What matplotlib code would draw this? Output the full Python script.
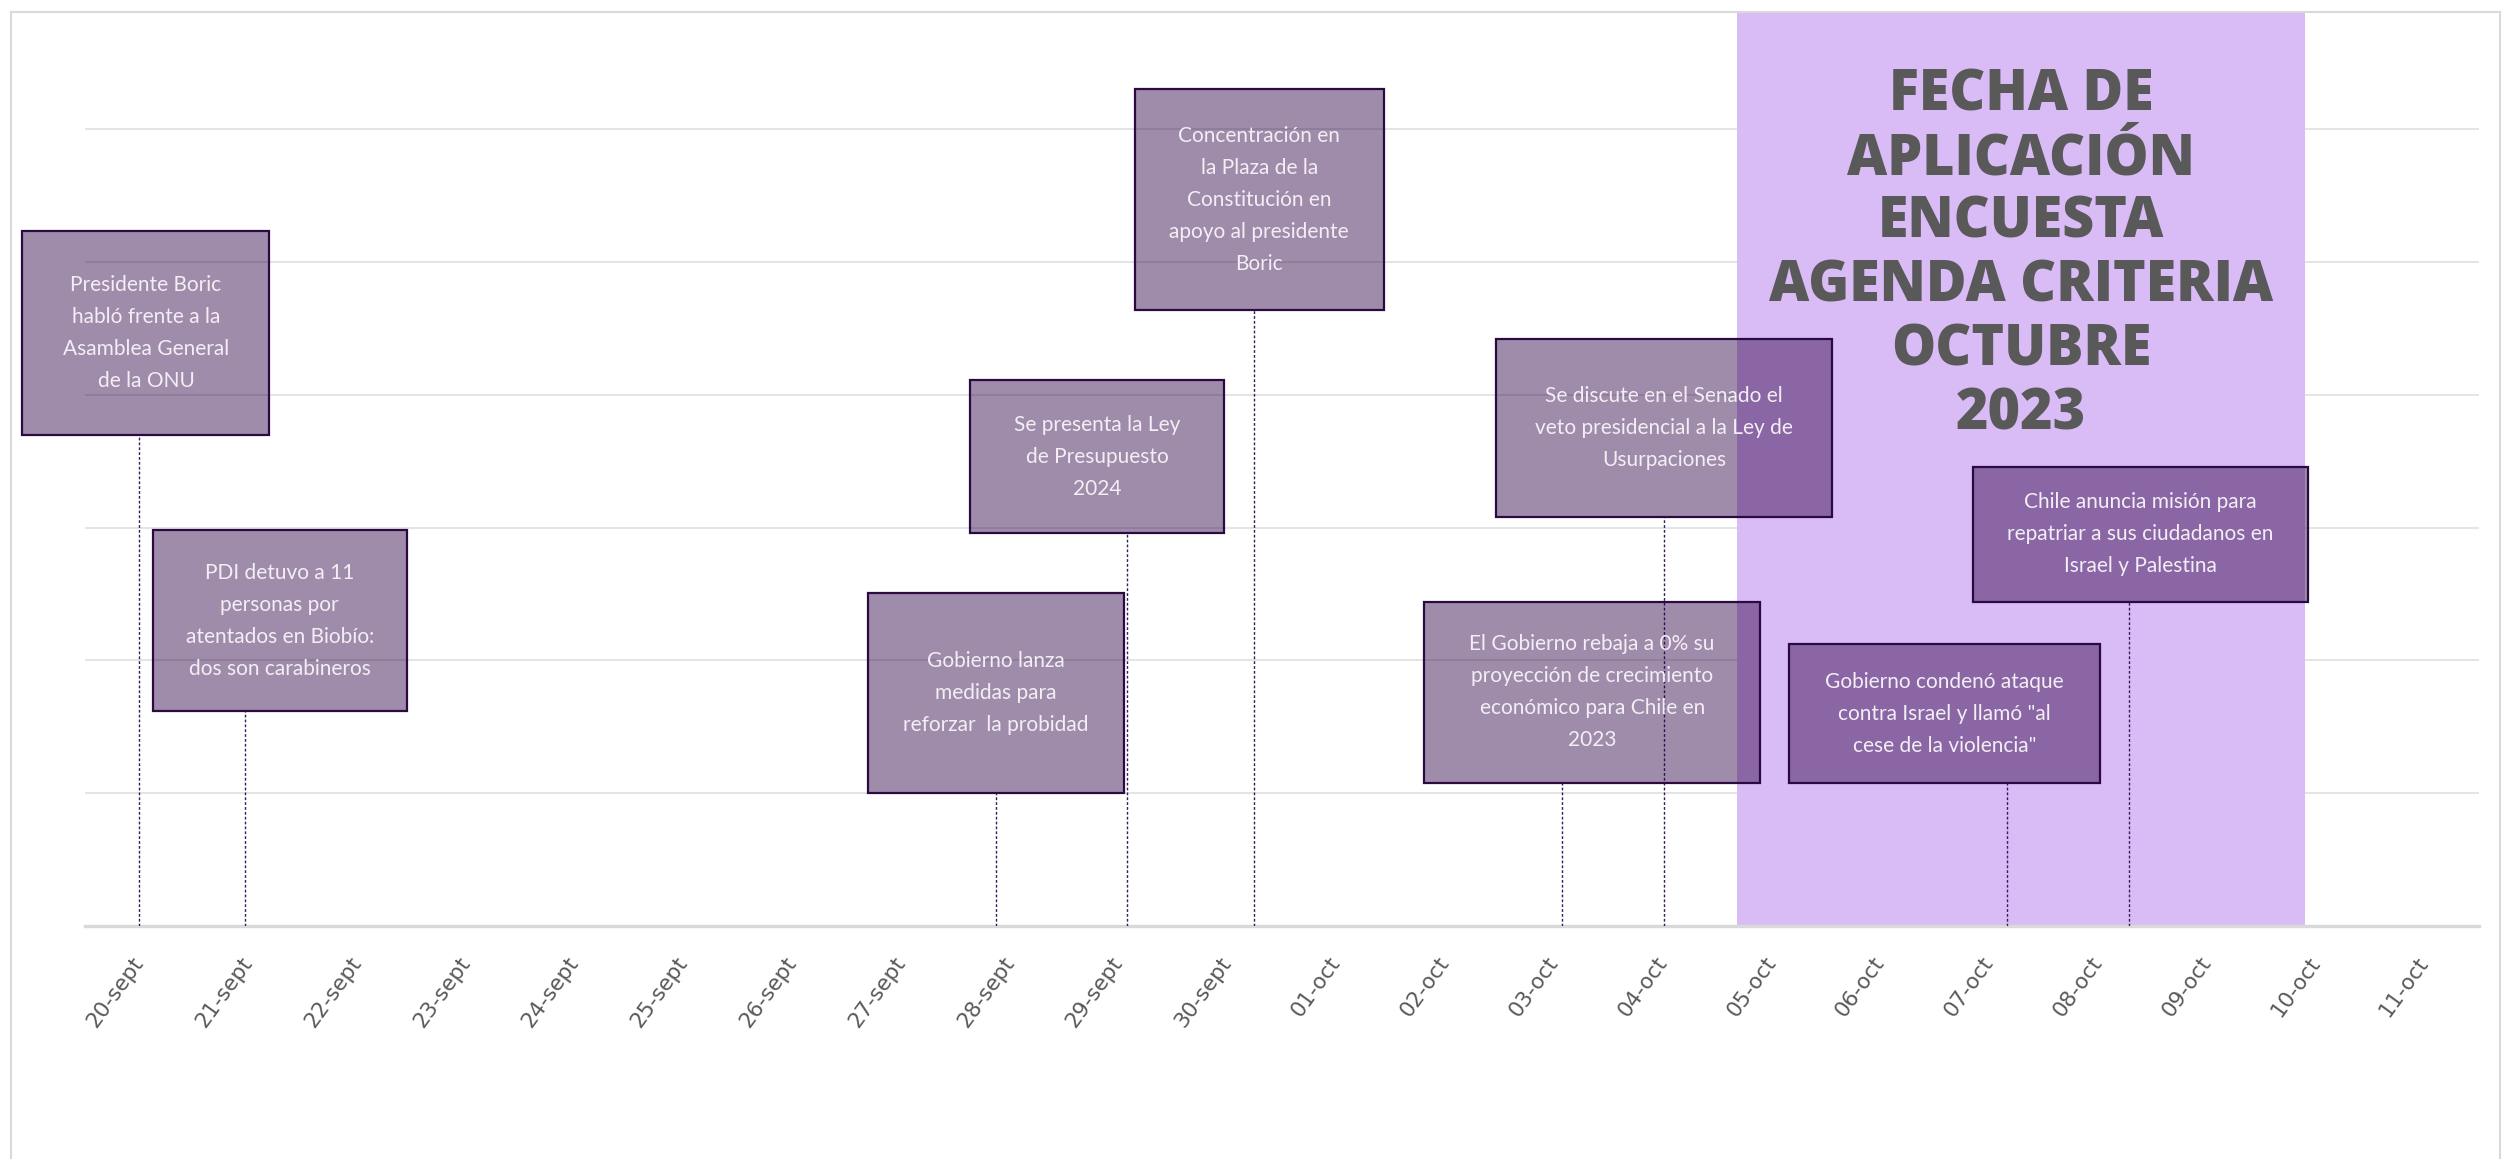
import matplotlib
matplotlib.use("Agg")
import matplotlib.pyplot as plt
from matplotlib.patches import Rectangle
from matplotlib.lines import Line2D

# categorías del eje x
dias = ['20-sept', '21-sept', '22-sept', '23-sept', '24-sept', '25-sept', '26-sept',
        '27-sept', '28-sept', '29-sept', '30-sept', '01-oct', '02-oct', '03-oct',
        '04-oct', '05-oct', '06-oct', '07-oct', '08-oct', '09-oct', '10-oct', '11-oct']

# hitos: posicion en el eje (indice de dia) y altura del hito
eventos = [
    "Presidente Boric\nhabló frente a la\nAsamblea General\nde la ONU",
    "PDI detuvo a 11\npersonas por\natentados en Biobío:\ndos son carabineros",
    "Gobierno lanza\nmedidas para\nreforzar  la probidad",
    "Se presenta la Ley\nde Presupuesto\n2024",
    "Concentración en\nla Plaza de la\nConstitución en\napoyo al presidente\nBoric",
    "Se discute en el Senado el\nveto presidencial a la Ley de\nUsurpaciones",
    "El Gobierno rebaja a 0% su\nproyección de crecimiento\neconómico para Chile en\n2023",
    "Gobierno condenó ataque\ncontra Israel y llamó \"al\ncese de la violencia\"",
    "Chile anuncia misión para\nrepatriar a sus ciudadanos en\nIsrael y Palestina",
]
fecha_evento = [0.0, 0.97, 7.87, 9.08, 10.24, 14.01, 13.07, 17.16, 18.28]
altura_evento = [3.70, 1.62, 1.00, 2.96, 4.64, 3.08, 1.08, 1.08, 2.44]

# periodo de aplicacion de la encuesta
periodo = [14.68, 19.90]
titulo_periodo = "FECHA DE\nAPLICACIÓN\nENCUESTA\nAGENDA CRITERIA\nOCTUBRE\n2023"

# layout de las cajas (centro x, ancho, alto) en unidades del eje
caja_cx = [0.06, 1.29, 7.87, 8.80, 10.29, 14.01, 13.35, 16.59, 18.39]
caja_w = [2.27, 2.33, 2.35, 2.33, 2.29, 3.09, 3.09, 2.86, 3.08]
caja_h = [1.53, 1.36, 1.51, 1.15, 1.66, 1.34, 1.36, 1.04, 1.02]

W, H = 2503, 1159
fig = plt.figure(figsize=(W / 100, H / 100), dpi=100)
ax = fig.add_axes([85 / W, 1 - 926 / H, (2479 - 85) / W, (926 - 13) / H])

ymax = (926 - 13) / 132.8
ax.set_xlim(-0.5, len(dias) - 0.5)
ax.set_ylim(0, ymax)

# franja morada
ax.axvspan(periodo[0], periodo[1], ymin=0, ymax=1, color='#d9bbf5', zorder=1, lw=0)
ax.text(sum(periodo) / 2, 5.05, titulo_periodo, ha='center', va='center',
        fontsize=40, fontweight='heavy', family='Open Sans', color='#595959',
        linespacing=1.16, zorder=2)

# grilla
for g in range(1, 7):
    ax.axhline(g, color='#e4e4e4', lw=1.4, zorder=0.5)

for s in ['top', 'right', 'left']:
    ax.spines[s].set_visible(False)
ax.spines['bottom'].set_color('#d9d9d9')
ax.spines['bottom'].set_linewidth(2.4)
ax.spines['bottom'].set_zorder(3)

ax.set_yticks([])
ax.set_xticks(range(len(dias)))
ax.set_xticklabels(dias, rotation=54, ha='right', va='center',
                   rotation_mode='anchor', fontsize=15.5, color='#595959')
ax.tick_params(axis='x', length=0, pad=24)

# lineas guia y cajas
for i, txt in enumerate(eventos):
    ax.vlines(fecha_evento[i], 0, altura_evento[i], color='#3a1a5c', lw=1.0,
              linestyles=(0, (2, 1.5)), zorder=4)
    x0 = caja_cx[i] - caja_w[i] / 2
    rect = Rectangle((x0, altura_evento[i]), caja_w[i], caja_h[i],
                     facecolor='#2a0043', alpha=0.45, lw=0, zorder=5, clip_on=False)
    ax.add_patch(rect)
    ax.add_patch(Rectangle((x0, altura_evento[i]), caja_w[i], caja_h[i],
                           facecolor='none', edgecolor='#2a0a40', lw=1.6,
                           zorder=6, clip_on=False))
    ax.text(caja_cx[i], altura_evento[i] + caja_h[i] / 2, txt, ha='center', va='center',
            fontsize=15, family='Lato', color='#f3eef5',
            linespacing=1.75, zorder=7)

# borde del grafico
bc = '#d9d9d9'
fig.add_artist(Line2D([11 / W, 2500 / W], [1 - 12 / H, 1 - 12 / H], color=bc, lw=1.5))
fig.add_artist(Line2D([11 / W, 11 / W], [0, 1 - 12 / H], color=bc, lw=1.5))
fig.add_artist(Line2D([2500 / W, 2500 / W], [0, 1 - 12 / H], color=bc, lw=1.5))

fig.savefig('out.png', dpi=100)
